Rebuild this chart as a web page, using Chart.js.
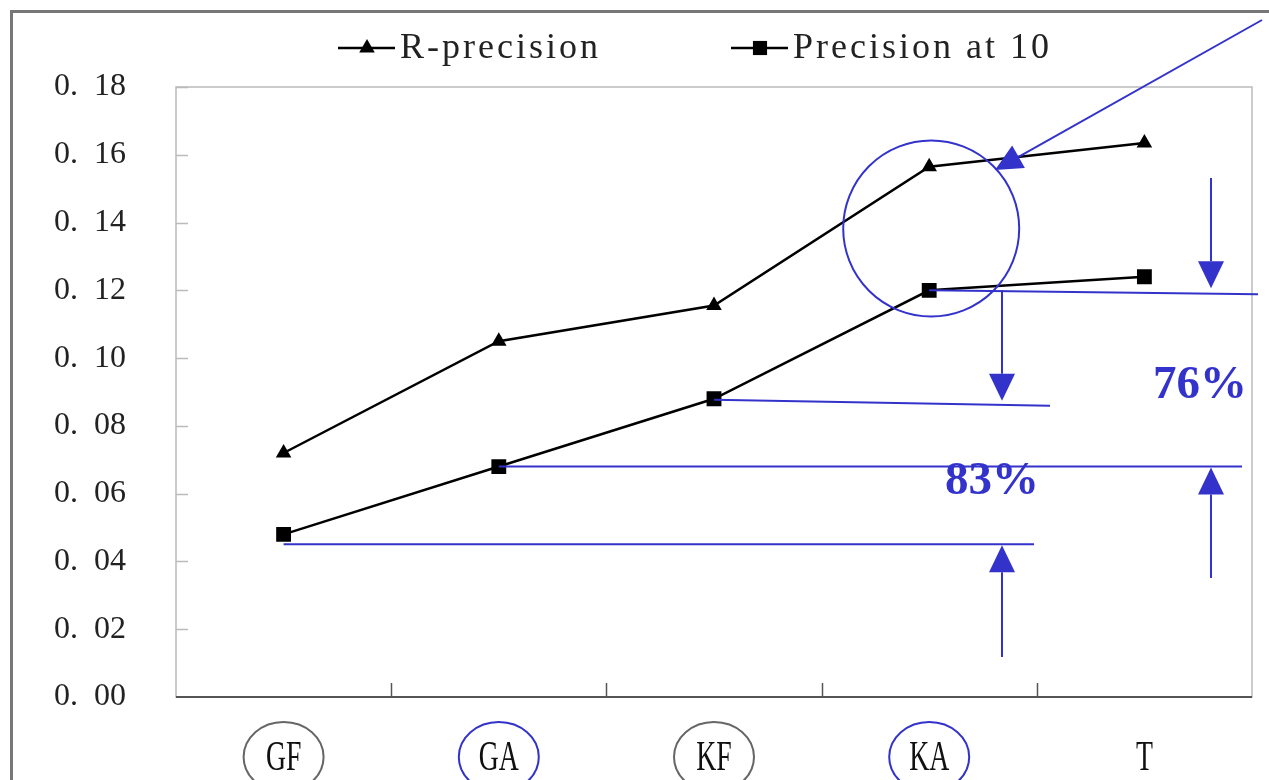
<!DOCTYPE html>
<html>
<head>
<meta charset="utf-8">
<script src="https://cdn.jsdelivr.net/npm/chart.js@4.4.1/dist/chart.umd.min.js"></script>
<style>
  html, body { margin: 0; padding: 0; background: #fff; }
  #chart { display: block; }
</style>
</head>
<body>
<canvas id="chart" width="1269" height="780"></canvas>
<script>
// ---------- DATA ----------
const categories = ['GF', 'GA', 'KF', 'KA', 'T'];
const rPrecision = [0.072, 0.105, 0.1155, 0.1565, 0.1635];
const precisionAt10 = [0.048, 0.068, 0.088, 0.120, 0.124];
const yTickLabels = ['0.\u200200', '0.\u200202', '0.\u200204', '0.\u200206', '0.\u200208',
                     '0.\u200210', '0.\u200212', '0.\u200214', '0.\u200216', '0.\u200218'];
const seriesNames = ['R-precision', 'Precision at 10'];
const percentLabels = ['76%', '83%'];

const BLUE = '#3333cc';

function arrow(ctx, x1, y1, x2, y2) {
    const ang = Math.atan2(y2 - y1, x2 - x1);
    const len = 27, half = 13;
    const bx = x2 - len * Math.cos(ang), by = y2 - len * Math.sin(ang);
    ctx.beginPath();
    ctx.moveTo(x1, y1);
    ctx.lineTo(bx, by);
    ctx.stroke();
    ctx.beginPath();
    ctx.moveTo(x2, y2);
    ctx.lineTo(bx + half * Math.sin(ang), by - half * Math.cos(ang));
    ctx.lineTo(bx - half * Math.sin(ang), by + half * Math.cos(ang));
    ctx.closePath();
    ctx.fill();
}

function line(ctx, x1, y1, x2, y2) {
    ctx.beginPath();
    ctx.moveTo(x1, y1);
    ctx.lineTo(x2, y2);
    ctx.stroke();
}

const decorations = {
    id: 'decorations',
    beforeDraw(chart) {
        const ctx = chart.ctx;
        const a = chart.chartArea;
        const x = chart.scales.x, y = chart.scales.y;
        ctx.save();
        // outer frame
        ctx.strokeStyle = '#777';
        ctx.lineWidth = 3;
        line(ctx, 11.5, 10, 11.5, 780);
        line(ctx, 10, 11.5, 1269, 11.5);
        // plot frame (light)
        ctx.strokeStyle = '#bbb';
        ctx.lineWidth = 1.5;
        ctx.strokeRect(a.left, a.top, a.right - a.left, a.bottom - a.top);
        // inner y ticks
        y.ticks.forEach((t, i) => {
            if (i === 0) return;
            const py = Math.round(y.getPixelForValue(t.value)) + 0.5;
            line(ctx, a.left, py, a.left + 12, py);
        });
        // bottom axis
        ctx.strokeStyle = '#555';
        ctx.lineWidth = 2;
        line(ctx, a.left, a.bottom, a.right, a.bottom);
        // inner x ticks at category boundaries
        ctx.lineWidth = 1.5;
        for (let i = 1; i < categories.length; i++) {
            const px = Math.round((x.getPixelForValue(i - 1) + x.getPixelForValue(i)) / 2) + 0.5;
            line(ctx, px, a.bottom, px, a.bottom - 14);
        }
        // category labels (condensed serif)
        ctx.fillStyle = '#111';
        ctx.font = '42px "Liberation Serif", serif';
        ctx.textAlign = 'center';
        ctx.textBaseline = 'alphabetic';
        categories.forEach((c, i) => {
            ctx.save();
            ctx.translate(x.getPixelForValue(i), 770);
            ctx.scale(0.66, 1);
            ctx.fillText(c, 0, 0);
            ctx.restore();
        });
        ctx.restore();
    },
    afterDraw(chart) {
        const ctx = chart.ctx;
        const x = chart.scales.x, y = chart.scales.y;
        const X = i => x.getPixelForValue(i);
        const Y = v => y.getPixelForValue(v);
        ctx.save();

        // legend
        ctx.font = '36px "Liberation Serif", serif';
        ctx.letterSpacing = '3px';
        ctx.textBaseline = 'middle';
        const legendItems = [[338, 'triangle'], [731, 'rect']];
        legendItems.forEach(([lx, style], i) => {
            ctx.strokeStyle = '#000';
            ctx.lineWidth = 2.5;
            line(ctx, lx, 48, lx + 57, 48);
            ctx.fillStyle = '#000';
            Chart.helpers.drawPoint(ctx, { pointStyle: style, radius: style === 'rect' ? 10 : 9, borderWidth: 0 }, lx + 29, 48);
            ctx.fillStyle = '#222';
            ctx.fillText(seriesNames[i], lx + 62, 49);
        });
        ctx.letterSpacing = '0px';

        // ellipses round the category labels
        const ringColors = ['#666', BLUE, '#666', BLUE];
        ctx.lineWidth = 2;
        ringColors.forEach((c, i) => {
            ctx.strokeStyle = c;
            ctx.beginPath();
            ctx.ellipse(X(i), 757, 40, 35, 0, 0, Math.PI * 2);
            ctx.stroke();
        });

        // annotations
        ctx.strokeStyle = BLUE;
        ctx.fillStyle = BLUE;
        ctx.lineWidth = 2;
        const ka = 3, kf = 2, ga = 1, gf = 0;
        // circle around KA
        ctx.beginPath();
        ctx.arc(X(ka) + 2, Y((rPrecision[ka] + precisionAt10[ka]) / 2), 88, 0, Math.PI * 2);
        ctx.stroke();
        // pointer arrow
        arrow(ctx, 1262, 20, 995, 170);
        // level lines
        line(ctx, X(ka), Y(precisionAt10[ka]), 1258, Y(precisionAt10[ka]) + 4);
        line(ctx, X(kf), Y(precisionAt10[kf]) + 1, 1050, Y(precisionAt10[kf]) + 7);
        line(ctx, X(ga), Y(precisionAt10[ga]), 1242, Y(precisionAt10[ga]));
        line(ctx, X(gf), Y(precisionAt10[gf]) + 10, 1034, Y(precisionAt10[gf]) + 10);
        // vertical arrows
        arrow(ctx, 1211, 178, 1211, Y(precisionAt10[ka]) - 2);
        arrow(ctx, 1002, Y(precisionAt10[ka]), 1002, Y(precisionAt10[kf]) + 2);
        arrow(ctx, 1211, 578, 1211, Y(precisionAt10[ga]) + 1);
        arrow(ctx, 1002, 657, 1002, Y(precisionAt10[gf]) + 11);
        // percentages
        ctx.font = 'bold 47px "Liberation Serif", serif';
        ctx.textAlign = 'center';
        ctx.textBaseline = 'alphabetic';
        ctx.fillText(percentLabels[0], 1200, 398);
        ctx.fillText(percentLabels[1], 992, 494);
        ctx.restore();
    }
};

var ctx = document.getElementById('chart').getContext('2d');
var chart = new Chart(ctx, {
    type: 'line',
    data: {
        labels: categories,
        datasets: [{
            label: seriesNames[0],
            data: rPrecision,
            borderColor: '#000',
            backgroundColor: '#000',
            borderWidth: 2.5,
            pointStyle: 'triangle',
            pointRadius: 9,
            pointBorderWidth: 0,
            tension: 0
        }, {
            label: seriesNames[1],
            data: precisionAt10,
            borderColor: '#000',
            backgroundColor: '#000',
            borderWidth: 2.5,
            pointStyle: 'rect',
            pointRadius: 10.5,
            pointBorderWidth: 0,
            tension: 0
        }]
    },
    options: {
        responsive: false,
        animation: false,
        layout: { padding: { top: 87, right: 17, left: 0, bottom: 0 } },
        plugins: {
            legend: { display: false },
            tooltip: { enabled: false }
        },
        scales: {
            x: {
                offset: true,
                grid: { display: false, drawTicks: false },
                border: { display: false },
                ticks: { display: false },
                afterFit: s => { s.height = 83; }
            },
            y: {
                min: 0,
                max: 0.18,
                grid: { display: false, drawTicks: false },
                border: { display: false },
                ticks: {
                    stepSize: 0.02,
                    color: '#222',
                    padding: 50,
                    font: { family: '"Liberation Serif", serif', size: 32 },
                    callback: (v, i) => yTickLabels[i]
                },
                afterFit: s => { s.width = 176; }
            }
        }
    },
    plugins: [decorations]
});
</script>
</body>
</html>
